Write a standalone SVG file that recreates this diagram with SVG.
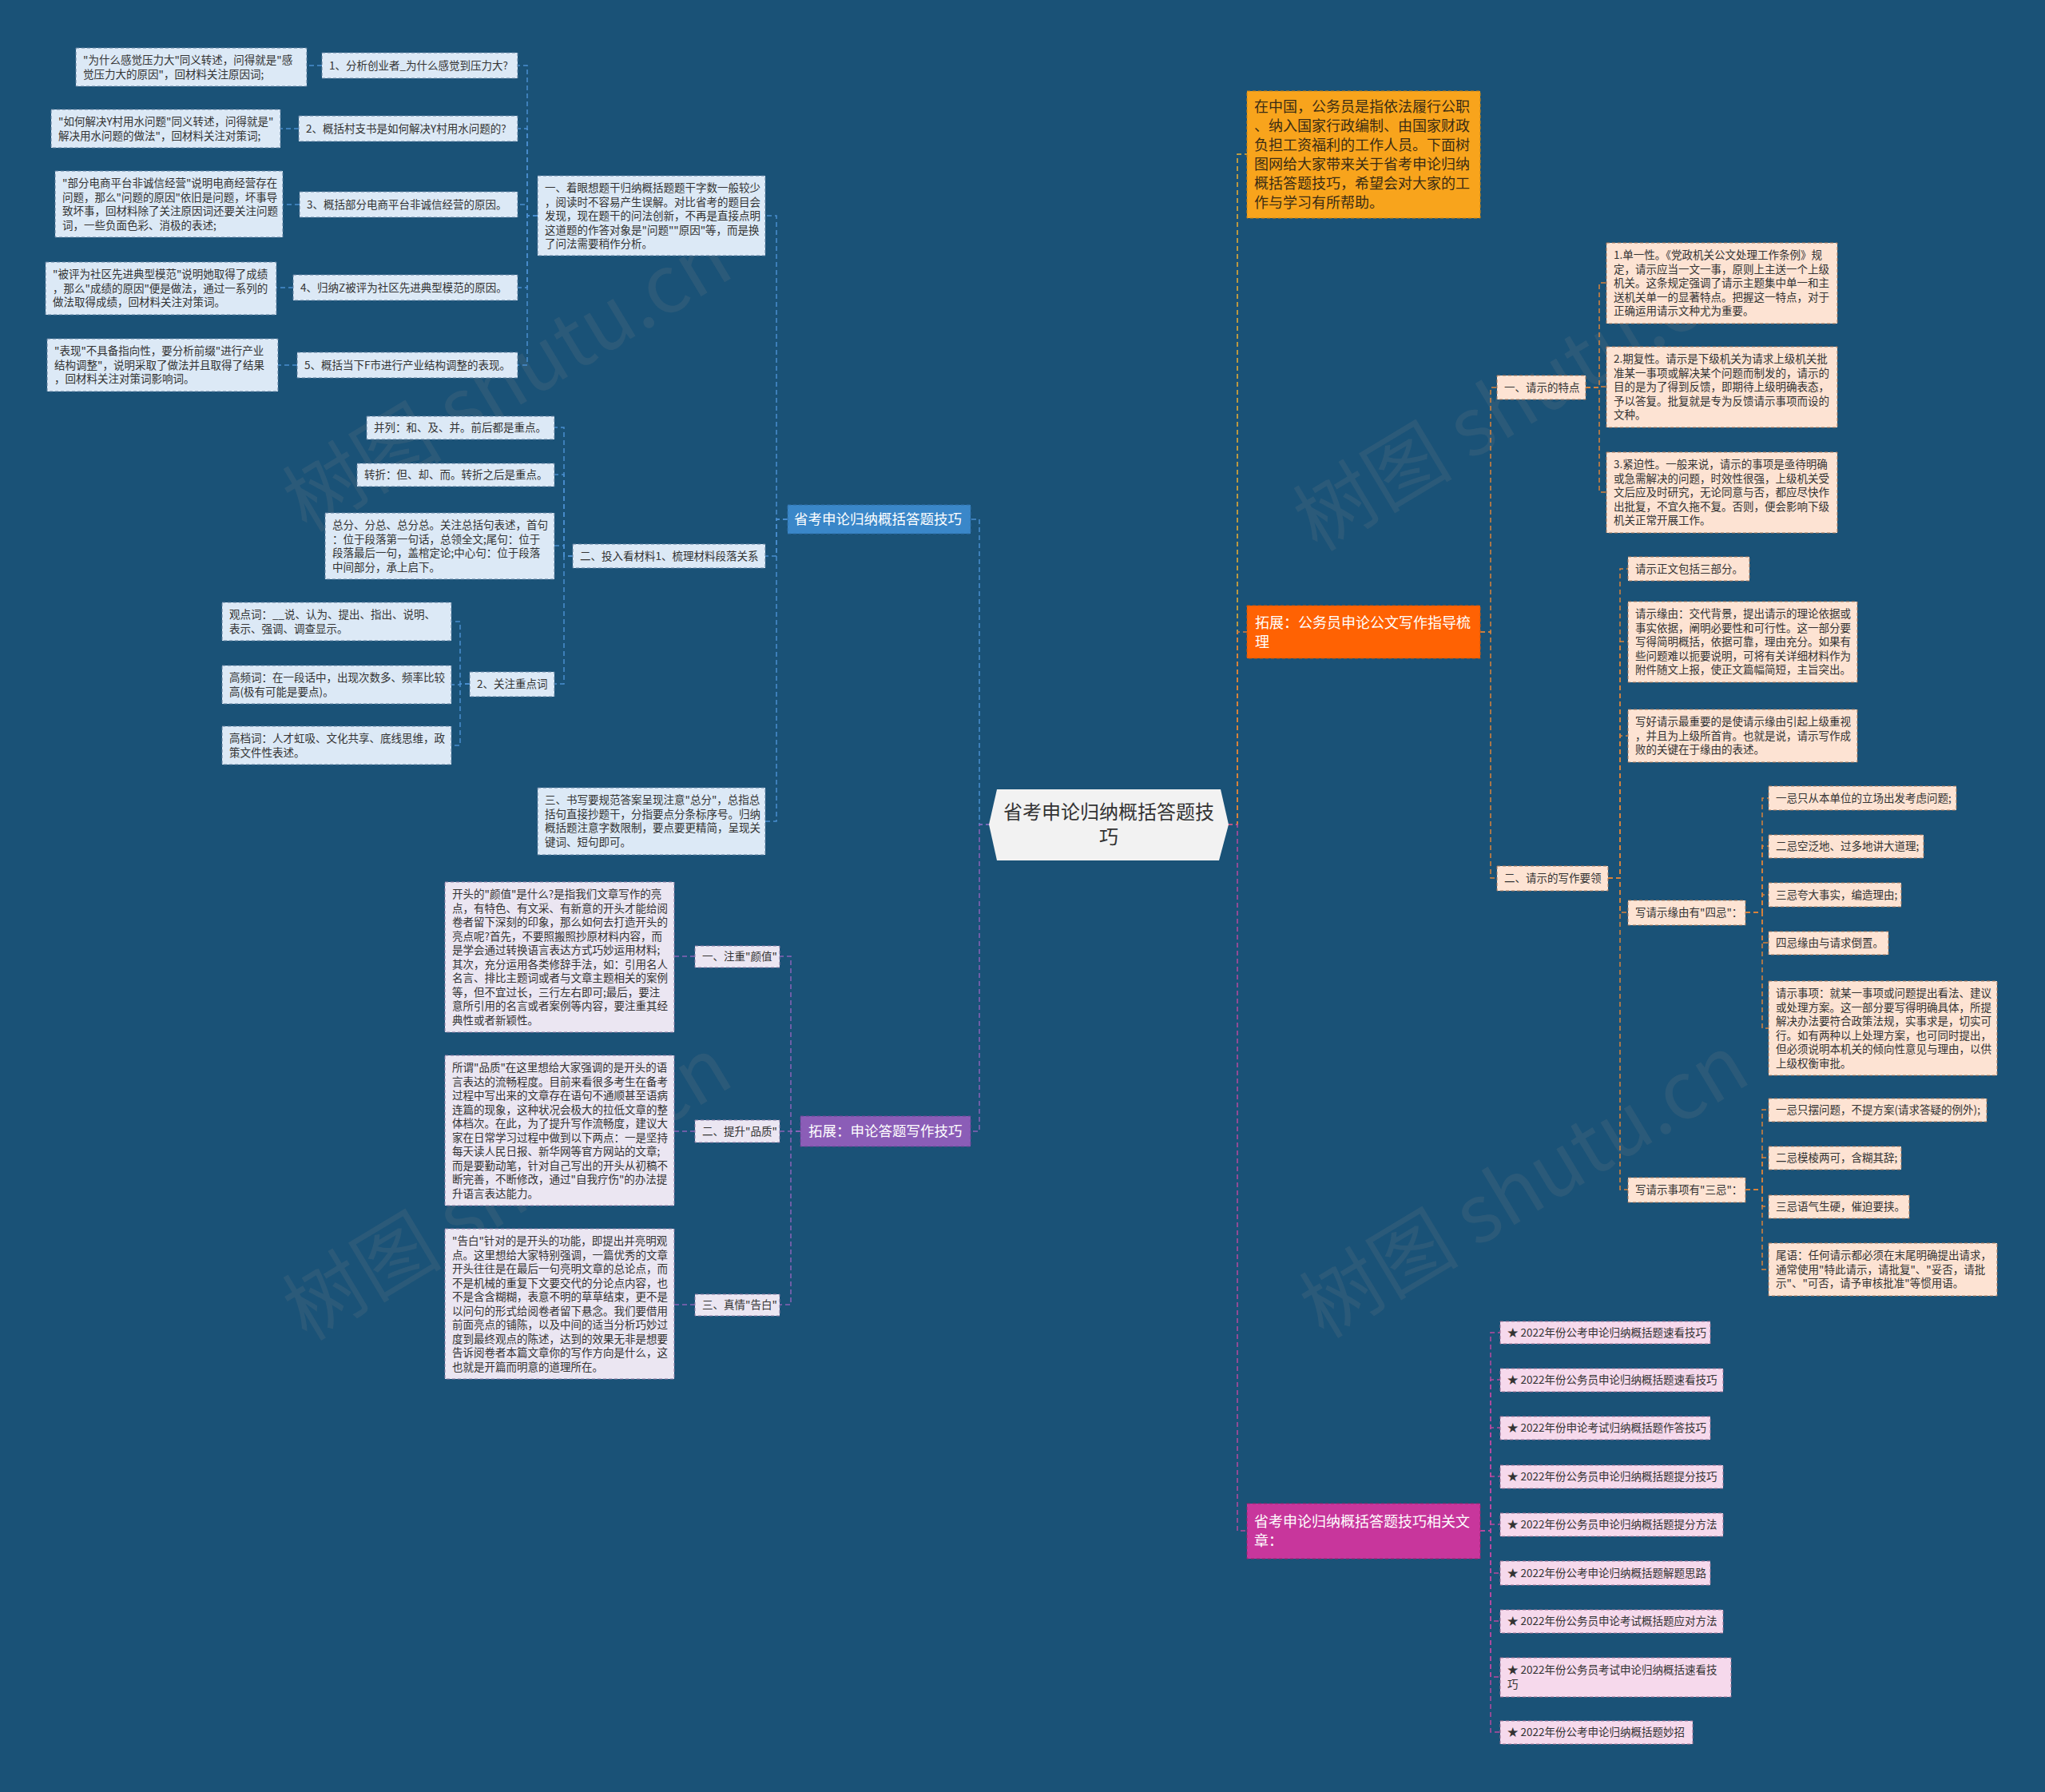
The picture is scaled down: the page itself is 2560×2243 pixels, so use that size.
<svg xmlns="http://www.w3.org/2000/svg" width="2560" height="2243" viewBox="0 0 2560 2243">
<style>
text{font-family:"Noto Sans CJK SC","Noto Sans",sans-serif}
.s{font-size:13.5px;fill:#333}
.lb{fill:#dce9f6;stroke:#5f7f9e;stroke-width:1;stroke-dasharray:4 3}
.pe{fill:#fde3d3;stroke:#a9795a;stroke-width:1;stroke-dasharray:4 3}
.la{fill:#ebe6f2;stroke:#8a7ba3;stroke-width:1;stroke-dasharray:4 3}
.pk{fill:#f6d9ec;stroke:#9f7294;stroke-width:1;stroke-dasharray:4 3}
.wm{font-size:100px;fill:#8a8a8a;fill-opacity:0.16}
#connectors path{fill:none;stroke-width:1.5;stroke-dasharray:6 4}
.cb{stroke:#4a8fd0}.cp{stroke:#8a63b8}.cy{stroke:#f0b030}.co{stroke:#e07b39}.cm{stroke:#b84aa0}.cob{stroke:#d9823b}
</style>
<rect width="2560" height="2243" fill="#1a5277"/>
<g id="watermarks">
<text class="wm" transform="translate(653,506) rotate(-31)" text-anchor="middle">树图 shutu.cn</text>
<text class="wm" transform="translate(653,1518) rotate(-31)" text-anchor="middle">树图 shutu.cn</text>
<text class="wm" transform="translate(1918,530) rotate(-31)" text-anchor="middle">树图 shutu.cn</text>
<text class="wm" transform="translate(1926,1515) rotate(-31)" text-anchor="middle">树图 shutu.cn</text>
</g>
<g id="connectors">
<path class="cb" d="M1240,1032 H1226 V650 H1215"/>
<path class="cp" d="M1240,1032 H1226 V1416 H1215"/>
<path class="cy" d="M1537,1032 H1549 V193 H1561"/>
<path class="co" d="M1537,1032 H1549 V791 H1561"/>
<path class="cm" d="M1537,1032 H1549 V1916 H1561"/>
<path class="cb" d="M986,650 H972 V270 H958"/>
<path class="cb" d="M986,650 H972 V696 H958"/>
<path class="cb" d="M986,650 H972 V1028 H958"/>
<path class="cb" d="M673,270 H660 V82 H648"/>
<path class="cb" d="M673,270 H660 V161 H648"/>
<path class="cb" d="M673,270 H660 V256 H648"/>
<path class="cb" d="M673,270 H660 V360 H648"/>
<path class="cb" d="M673,270 H660 V457 H648"/>
<path class="cb" d="M403,82 H384"/>
<path class="cb" d="M374,161 H351"/>
<path class="cb" d="M375,256 H354"/>
<path class="cb" d="M367,360 H346"/>
<path class="cb" d="M372,457 H348"/>
<path class="cb" d="M717,696 H706 V535 H694"/>
<path class="cb" d="M717,696 H706 V594 H694"/>
<path class="cb" d="M717,696 H706 V683 H694"/>
<path class="cb" d="M717,696 H706 V856 H694"/>
<path class="cb" d="M588,856 H576 V778 H565"/>
<path class="cb" d="M588,856 H576 V857 H565"/>
<path class="cb" d="M588,856 H576 V933 H565"/>
<path class="cp" d="M1002,1416 H990 V1197 H976"/>
<path class="cp" d="M1002,1416 H990 V1416 H976"/>
<path class="cp" d="M1002,1416 H990 V1633 H976"/>
<path class="cp" d="M870,1197 H844"/>
<path class="cp" d="M870,1416 H844"/>
<path class="cp" d="M870,1633 H844"/>
<path class="cob" d="M1853,791 H1866 V485 H1874"/>
<path class="cob" d="M1853,791 H1866 V1099 H1874"/>
<path class="cob" d="M1985,485 H2002 V354 H2011"/>
<path class="cob" d="M1985,485 H2002 V484 H2011"/>
<path class="cob" d="M1985,485 H2002 V616 H2011"/>
<path class="cob" d="M2013,1099 H2028 V712 H2038"/>
<path class="cob" d="M2013,1099 H2028 V803 H2038"/>
<path class="cob" d="M2013,1099 H2028 V921 H2038"/>
<path class="cob" d="M2013,1099 H2028 V1142 H2038"/>
<path class="cob" d="M2013,1099 H2028 V1489 H2038"/>
<path class="cob" d="M2185,1142 H2206 V999 H2214"/>
<path class="cob" d="M2185,1142 H2206 V1059 H2214"/>
<path class="cob" d="M2185,1142 H2206 V1120 H2214"/>
<path class="cob" d="M2185,1142 H2206 V1180 H2214"/>
<path class="cob" d="M2185,1142 H2206 V1287 H2214"/>
<path class="cob" d="M2185,1489 H2206 V1389 H2214"/>
<path class="cob" d="M2185,1489 H2206 V1449 H2214"/>
<path class="cob" d="M2185,1489 H2206 V1510 H2214"/>
<path class="cob" d="M2185,1489 H2206 V1589 H2214"/>
<path class="cm" d="M1853,1916 H1866 V1668 H1878"/>
<path class="cm" d="M1853,1916 H1866 V1727 H1878"/>
<path class="cm" d="M1853,1916 H1866 V1787 H1878"/>
<path class="cm" d="M1853,1916 H1866 V1848 H1878"/>
<path class="cm" d="M1853,1916 H1866 V1908 H1878"/>
<path class="cm" d="M1853,1916 H1866 V1969 H1878"/>
<path class="cm" d="M1853,1916 H1866 V2029 H1878"/>
<path class="cm" d="M1853,1916 H1866 V2099 H1878"/>
<path class="cm" d="M1853,1916 H1866 V2168 H1878"/>
</g>

<g id="center">
<polygon points="1248,988 1528,988 1538,1032 1526,1077 1248,1077 1238,1032" fill="#f2f2f2"/>
<text x="1388" y="1025" text-anchor="middle" font-size="24" fill="#333">省考申论归纳概括答题技<tspan x="1388" dy="31">巧</tspan></text>
</g>

<g id="n-blue">
<rect x="986" y="632" width="229" height="36" fill="#3a87c9" stroke="#2f6fa8" stroke-dasharray="4 3"/>
<text x="994" y="656" font-size="17.5" fill="#fff">省考申论归纳概括答题技巧</text>
</g>
<g id="n-b1">
<rect class="lb" x="673" y="220" width="285" height="100"/>
<text class="s" x="682" y="240">一、着眼想题干归纳概括题题干字数一般较少<tspan x="682" dy="17.5">，阅读时不容易产生误解。对比省考的题目会</tspan><tspan x="682" dy="17.5">发现，现在题干的问法创新，不再是直接点明</tspan><tspan x="682" dy="17.5">这道题的作答对象是"问题""原因"等，而是换</tspan><tspan x="682" dy="17.5">了问法需要稍作分析。</tspan></text>
</g>
<g id="n-b1-1">
<rect class="lb" x="403" y="66" width="245" height="32"/>
<text class="s" x="412" y="87">1、分析创业者_为什么感觉到压力大?</text>
</g>
<g id="n-b1-2">
<rect class="lb" x="374" y="145" width="274" height="32"/>
<text class="s" x="383" y="166">2、概括村支书是如何解决Y村用水问题的?</text>
</g>
<g id="n-b1-3">
<rect class="lb" x="375" y="240" width="273" height="32"/>
<text class="s" x="384" y="261">3、概括部分电商平台非诚信经营的原因。</text>
</g>
<g id="n-b1-4">
<rect class="lb" x="367" y="344" width="281" height="32"/>
<text class="s" x="376" y="365">4、归纳Z被评为社区先进典型模范的原因。</text>
</g>
<g id="n-b1-5">
<rect class="lb" x="372" y="441" width="276" height="32"/>
<text class="s" x="381" y="462">5、概括当下F市进行产业结构调整的表现。</text>
</g>
<g id="n-b1-1a">
<rect class="lb" x="95" y="60" width="289" height="48"/>
<text class="s" x="104" y="80">"为什么感觉压力大"同义转述，问得就是"感<tspan x="104" dy="17.5">觉压力大的原因"，回材料关注原因词;</tspan></text>
</g>
<g id="n-b1-2a">
<rect class="lb" x="64" y="137" width="287" height="48"/>
<text class="s" x="73" y="157">"如何解决Y村用水问题"同义转述，问得就是"<tspan x="73" dy="17.5">解决用水问题的做法"，回材料关注对策词;</tspan></text>
</g>
<g id="n-b1-3a">
<rect class="lb" x="69" y="214" width="285" height="83"/>
<text class="s" x="78" y="234">"部分电商平台非诚信经营"说明电商经营存在<tspan x="78" dy="17.5">问题，那么"问题的原因"依旧是问题，坏事导</tspan><tspan x="78" dy="17.5">致坏事，回材料除了关注原因词还要关注问题</tspan><tspan x="78" dy="17.5">词，一些负面色彩、消极的表述;</tspan></text>
</g>
<g id="n-b1-4a">
<rect class="lb" x="57" y="328" width="289" height="66"/>
<text class="s" x="66" y="348">"被评为社区先进典型模范"说明她取得了成绩<tspan x="66" dy="17.5">，那么"成绩的原因"便是做法，通过一系列的</tspan><tspan x="66" dy="17.5">做法取得成绩，回材料关注对策词。</tspan></text>
</g>
<g id="n-b1-5a">
<rect class="lb" x="59" y="424" width="289" height="66"/>
<text class="s" x="68" y="444">"表现"不具备指向性，要分析前缀"进行产业<tspan x="68" dy="17.5">结构调整"，说明采取了做法并且取得了结果</tspan><tspan x="68" dy="17.5">，回材料关注对策词影响词。</tspan></text>
</g>
<g id="n-b2">
<rect class="lb" x="717" y="681" width="241" height="30"/>
<text class="s" x="726" y="701">二、投入看材料1、梳理材料段落关系</text>
</g>
<g id="n-b2-1">
<rect class="lb" x="459" y="521" width="235" height="29"/>
<text class="s" x="468" y="540">并列：和、及、并。前后都是重点。</text>
</g>
<g id="n-b2-2">
<rect class="lb" x="447" y="580" width="247" height="29"/>
<text class="s" x="456" y="599">转折：但、却、而。转折之后是重点。</text>
</g>
<g id="n-b2-3">
<rect class="lb" x="407" y="642" width="287" height="83"/>
<text class="s" x="416" y="662">总分、分总、总分总。关注总括句表述，首句<tspan x="416" dy="17.5">：位于段落第一句话，总领全文;尾句：位于</tspan><tspan x="416" dy="17.5">段落最后一句，盖棺定论;中心句：位于段落</tspan><tspan x="416" dy="17.5">中间部分，承上启下。</tspan></text>
</g>
<g id="n-b2-4">
<rect class="lb" x="588" y="841" width="106" height="31"/>
<text class="s" x="597" y="861">2、关注重点词</text>
</g>
<g id="n-b2-4-1">
<rect class="lb" x="278" y="754" width="287" height="48"/>
<text class="s" x="287" y="774">观点词：__说、认为、提出、指出、说明、<tspan x="287" dy="17.5">表示、强调、调查显示。</tspan></text>
</g>
<g id="n-b2-4-2">
<rect class="lb" x="278" y="833" width="287" height="48"/>
<text class="s" x="287" y="853">高频词：在一段话中，出现次数多、频率比较<tspan x="287" dy="17.5">高(极有可能是要点)。</tspan></text>
</g>
<g id="n-b2-4-3">
<rect class="lb" x="278" y="909" width="287" height="48"/>
<text class="s" x="287" y="929">高档词：人才虹吸、文化共享、底线思维，政<tspan x="287" dy="17.5">策文件性表述。</tspan></text>
</g>
<g id="n-b3">
<rect class="lb" x="673" y="986" width="285" height="84"/>
<text class="s" x="682" y="1006">三、书写要规范答案呈现注意"总分"，总指总<tspan x="682" dy="17.5">括句直接抄题干，分指要点分条标序号。归纳</tspan><tspan x="682" dy="17.5">概括题注意字数限制，要点要更精简，呈现关</tspan><tspan x="682" dy="17.5">键词、短句即可。</tspan></text>
</g>

<g id="n-purple">
<rect x="1002" y="1397" width="213" height="38" fill="#8b5db7" stroke="#6c4594" stroke-dasharray="4 3"/>
<text x="1012" y="1422" font-size="17.5" fill="#fff">拓展：申论答题写作技巧</text>
</g>
<g id="n-p1">
<rect class="la" x="870" y="1184" width="106" height="27"/>
<text class="s" x="879" y="1202">一、注重"颜值"</text>
</g>
<g id="n-p2">
<rect class="la" x="870" y="1402" width="106" height="28"/>
<text class="s" x="879" y="1421">二、提升"品质"</text>
</g>
<g id="n-p3">
<rect class="la" x="870" y="1620" width="106" height="27"/>
<text class="s" x="879" y="1638">三、真情"告白"</text>
</g>
<g id="n-p1a">
<rect class="la" x="557" y="1104" width="287" height="188"/>
<text class="s" x="566" y="1124">开头的"颜值"是什么?是指我们文章写作的亮<tspan x="566" dy="17.5">点，有特色、有文采、有新意的开头才能给阅</tspan><tspan x="566" dy="17.5">卷者留下深刻的印象，那么如何去打造开头的</tspan><tspan x="566" dy="17.5">亮点呢?首先，不要照搬照抄原材料内容，而</tspan><tspan x="566" dy="17.5">是学会通过转换语言表达方式巧妙运用材料;</tspan><tspan x="566" dy="17.5">其次，充分运用各类修辞手法，如：引用名人</tspan><tspan x="566" dy="17.5">名言、排比主题词或者与文章主题相关的案例</tspan><tspan x="566" dy="17.5">等，但不宜过长，三行左右即可;最后，要注</tspan><tspan x="566" dy="17.5">意所引用的名言或者案例等内容，要注重其经</tspan><tspan x="566" dy="17.5">典性或者新颖性。</tspan></text>
</g>
<g id="n-p2a">
<rect class="la" x="557" y="1321" width="287" height="188"/>
<text class="s" x="566" y="1341">所谓"品质"在这里想给大家强调的是开头的语<tspan x="566" dy="17.5">言表达的流畅程度。目前来看很多考生在备考</tspan><tspan x="566" dy="17.5">过程中写出来的文章存在语句不通顺甚至语病</tspan><tspan x="566" dy="17.5">连篇的现象，这种状况会极大的拉低文章的整</tspan><tspan x="566" dy="17.5">体档次。在此，为了提升写作流畅度，建议大</tspan><tspan x="566" dy="17.5">家在日常学习过程中做到以下两点：一是坚持</tspan><tspan x="566" dy="17.5">每天读人民日报、新华网等官方网站的文章;</tspan><tspan x="566" dy="17.5">而是要勤动笔，针对自己写出的开头从初稿不</tspan><tspan x="566" dy="17.5">断完善，不断修改，通过"自我疗伤"的办法提</tspan><tspan x="566" dy="17.5">升语言表达能力。</tspan></text>
</g>
<g id="n-p3a">
<rect class="la" x="557" y="1538" width="287" height="188"/>
<text class="s" x="566" y="1558">"告白"针对的是开头的功能，即提出并亮明观<tspan x="566" dy="17.5">点。这里想给大家特别强调，一篇优秀的文章</tspan><tspan x="566" dy="17.5">开头往往是在最后一句亮明文章的总论点，而</tspan><tspan x="566" dy="17.5">不是机械的重复下文要交代的分论点内容，也</tspan><tspan x="566" dy="17.5">不是含含糊糊，表意不明的草草结束，更不是</tspan><tspan x="566" dy="17.5">以问句的形式给阅卷者留下悬念。我们要借用</tspan><tspan x="566" dy="17.5">前面亮点的铺陈，以及中间的适当分析巧妙过</tspan><tspan x="566" dy="17.5">度到最终观点的陈述，达到的效果无非是想要</tspan><tspan x="566" dy="17.5">告诉阅卷者本篇文章你的写作方向是什么，这</tspan><tspan x="566" dy="17.5">也就是开篇而明意的道理所在。</tspan></text>
</g>

<g id="n-intro">
<rect x="1561" y="114" width="292" height="159" fill="#f8a41c" stroke="#c98314" stroke-dasharray="4 3"/>
<text x="1570" y="140" font-size="18" fill="#3a2c14">在中国，公务员是指依法履行公职<tspan x="1570" dy="24">、纳入国家行政编制、由国家财政</tspan><tspan x="1570" dy="24">负担工资福利的工作人员。下面树</tspan><tspan x="1570" dy="24">图网给大家带来关于省考申论归纳</tspan><tspan x="1570" dy="24">概括答题技巧，希望会对大家的工</tspan><tspan x="1570" dy="24">作与学习有所帮助。</tspan></text>
</g>

<g id="n-orange">
<rect x="1561" y="758" width="292" height="66" fill="#ff6203" stroke="#c8560f" stroke-dasharray="4 3"/>
<text x="1571" y="786" font-size="18" fill="#fff">拓展：公务员申论公文写作指导梳<tspan x="1571" dy="24">理</tspan></text>
</g>
<g id="n-o1">
<rect class="pe" x="1874" y="470" width="111" height="30"/>
<text class="s" x="1883" y="490">一、请示的特点</text>
</g>
<g id="n-o1-1">
<rect class="pe" x="2011" y="304" width="289" height="101"/>
<text class="s" x="2020" y="324">1.单一性。《党政机关公文处理工作条例》规<tspan x="2020" dy="17.5">定，请示应当一文一事，原则上主送一个上级</tspan><tspan x="2020" dy="17.5">机关。这条规定强调了请示主题集中单一和主</tspan><tspan x="2020" dy="17.5">送机关单一的显著特点。把握这一特点，对于</tspan><tspan x="2020" dy="17.5">正确运用请示文种尤为重要。</tspan></text>
</g>
<g id="n-o1-2">
<rect class="pe" x="2011" y="434" width="289" height="101"/>
<text class="s" x="2020" y="454">2.期复性。请示是下级机关为请求上级机关批<tspan x="2020" dy="17.5">准某一事项或解决某个问题而制发的，请示的</tspan><tspan x="2020" dy="17.5">目的是为了得到反馈，即期待上级明确表态，</tspan><tspan x="2020" dy="17.5">予以答复。批复就是专为反馈请示事项而设的</tspan><tspan x="2020" dy="17.5">文种。</tspan></text>
</g>
<g id="n-o1-3">
<rect class="pe" x="2011" y="566" width="289" height="101"/>
<text class="s" x="2020" y="586">3.紧迫性。一般来说，请示的事项是亟待明确<tspan x="2020" dy="17.5">或急需解决的问题，时效性很强，上级机关受</tspan><tspan x="2020" dy="17.5">文后应及时研究，无论同意与否，都应尽快作</tspan><tspan x="2020" dy="17.5">出批复，不宜久拖不复。否则，便会影响下级</tspan><tspan x="2020" dy="17.5">机关正常开展工作。</tspan></text>
</g>
<g id="n-o2">
<rect class="pe" x="1874" y="1084" width="139" height="31"/>
<text class="s" x="1883" y="1104">二、请示的写作要领</text>
</g>
<g id="n-o2-1">
<rect class="pe" x="2038" y="697" width="152" height="30"/>
<text class="s" x="2047" y="717">请示正文包括三部分。</text>
</g>
<g id="n-o2-2">
<rect class="pe" x="2038" y="753" width="287" height="101"/>
<text class="s" x="2047" y="773">请示缘由：交代背景，提出请示的理论依据或<tspan x="2047" dy="17.5">事实依据，阐明必要性和可行性。这一部分要</tspan><tspan x="2047" dy="17.5">写得简明概括，依据可靠，理由充分。如果有</tspan><tspan x="2047" dy="17.5">些问题难以扼要说明，可将有关详细材料作为</tspan><tspan x="2047" dy="17.5">附件随文上报，使正文篇幅简短，主旨突出。</tspan></text>
</g>
<g id="n-o2-3">
<rect class="pe" x="2038" y="888" width="287" height="66"/>
<text class="s" x="2047" y="908">写好请示最重要的是使请示缘由引起上级重视<tspan x="2047" dy="17.5">，并且为上级所首肯。也就是说，请示写作成</tspan><tspan x="2047" dy="17.5">败的关键在于缘由的表述。</tspan></text>
</g>
<g id="n-o2-4">
<rect class="pe" x="2038" y="1127" width="147" height="31"/>
<text class="s" x="2047" y="1147">写请示缘由有"四忌"：</text>
</g>
<g id="n-o2-4-1">
<rect class="pe" x="2214" y="984" width="235" height="30"/>
<text class="s" x="2223" y="1004">一忌只从本单位的立场出发考虑问题;</text>
</g>
<g id="n-o2-4-2">
<rect class="pe" x="2214" y="1045" width="194" height="29"/>
<text class="s" x="2223" y="1064">二忌空泛地、过多地讲大道理;</text>
</g>
<g id="n-o2-4-3">
<rect class="pe" x="2214" y="1105" width="166" height="30"/>
<text class="s" x="2223" y="1125">三忌夸大事实，编造理由;</text>
</g>
<g id="n-o2-4-4">
<rect class="pe" x="2214" y="1166" width="150" height="29"/>
<text class="s" x="2223" y="1185">四忌缘由与请求倒置。</text>
</g>
<g id="n-o2-4-5">
<rect class="pe" x="2214" y="1228" width="286" height="118"/>
<text class="s" x="2223" y="1248">请示事项：就某一事项或问题提出看法、建议<tspan x="2223" dy="17.5">或处理方案。这一部分要写得明确具体，所提</tspan><tspan x="2223" dy="17.5">解决办法要符合政策法规，实事求是，切实可</tspan><tspan x="2223" dy="17.5">行。如有两种以上处理方案，也可同时提出，</tspan><tspan x="2223" dy="17.5">但必须说明本机关的倾向性意见与理由，以供</tspan><tspan x="2223" dy="17.5">上级权衡审批。</tspan></text>
</g>
<g id="n-o2-5">
<rect class="pe" x="2038" y="1474" width="147" height="31"/>
<text class="s" x="2047" y="1494">写请示事项有"三忌"：</text>
</g>
<g id="n-o2-5-1">
<rect class="pe" x="2214" y="1375" width="273" height="29"/>
<text class="s" x="2223" y="1394">一忌只摆问题，不提方案(请求答疑的例外);</text>
</g>
<g id="n-o2-5-2">
<rect class="pe" x="2214" y="1435" width="166" height="29"/>
<text class="s" x="2223" y="1454">二忌模棱两可，含糊其辞;</text>
</g>
<g id="n-o2-5-3">
<rect class="pe" x="2214" y="1496" width="176" height="29"/>
<text class="s" x="2223" y="1515">三忌语气生硬，催迫要挟。</text>
</g>
<g id="n-o2-5-4">
<rect class="pe" x="2214" y="1556" width="286" height="66"/>
<text class="s" x="2223" y="1576">尾语：任何请示都必须在末尾明确提出请求，<tspan x="2223" dy="17.5">通常使用"特此请示，请批复"、"妥否，请批</tspan><tspan x="2223" dy="17.5">示"、"可否，请予审核批准"等惯用语。</tspan></text>
</g>

<g id="n-magenta">
<rect x="1561" y="1882" width="292" height="69" fill="#c8369c" stroke="#96246f" stroke-dasharray="4 3"/>
<text x="1570" y="1911" font-size="18" fill="#fff">省考申论归纳概括答题技巧相关文<tspan x="1570" dy="24">章：</tspan></text>
</g>
<g id="n-m1"><rect class="pk" x="1878" y="1654" width="263" height="28"/><text class="s" x="1887" y="1673">★ 2022年份公考申论归纳概括题速看技巧</text></g>
<g id="n-m2"><rect class="pk" x="1878" y="1713" width="279" height="29"/><text class="s" x="1887" y="1732">★ 2022年份公务员申论归纳概括题速看技巧</text></g>
<g id="n-m3"><rect class="pk" x="1878" y="1773" width="263" height="29"/><text class="s" x="1887" y="1792">★ 2022年份申论考试归纳概括题作答技巧</text></g>
<g id="n-m4"><rect class="pk" x="1878" y="1834" width="279" height="29"/><text class="s" x="1887" y="1853">★ 2022年份公务员申论归纳概括题提分技巧</text></g>
<g id="n-m5"><rect class="pk" x="1878" y="1894" width="279" height="29"/><text class="s" x="1887" y="1913">★ 2022年份公务员申论归纳概括题提分方法</text></g>
<g id="n-m6"><rect class="pk" x="1878" y="1954" width="263" height="30"/><text class="s" x="1887" y="1974">★ 2022年份公考申论归纳概括题解题思路</text></g>
<g id="n-m7"><rect class="pk" x="1878" y="2015" width="279" height="29"/><text class="s" x="1887" y="2034">★ 2022年份公务员申论考试概括题应对方法</text></g>
<g id="n-m8"><rect class="pk" x="1878" y="2075" width="289" height="49"/><text class="s" x="1887" y="2095">★ 2022年份公务员考试申论归纳概括速看技<tspan x="1887" dy="17.5">巧</tspan></text></g>
<g id="n-m9"><rect class="pk" x="1878" y="2154" width="241" height="29"/><text class="s" x="1887" y="2173">★ 2022年份公考申论归纳概括题妙招</text></g>
</svg>
